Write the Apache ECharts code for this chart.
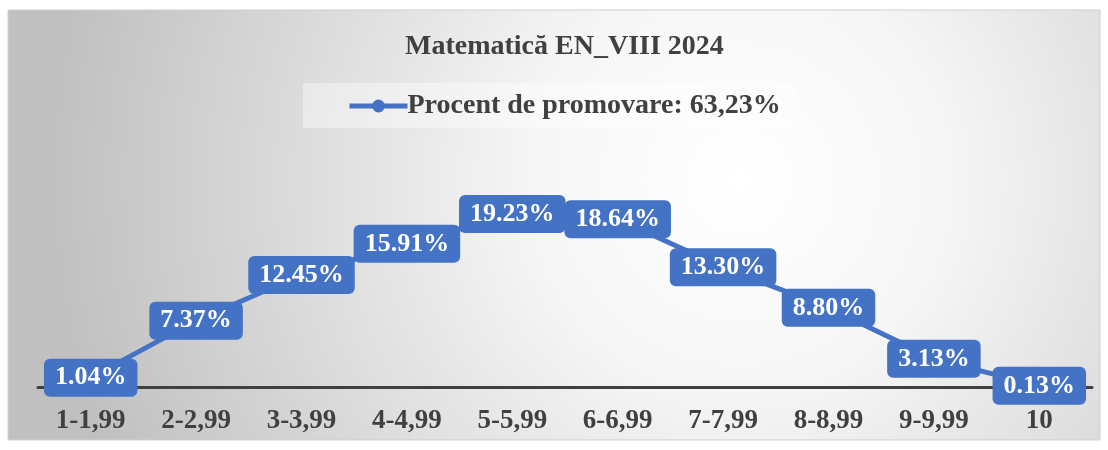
<!DOCTYPE html>
<html>
<head>
<meta charset="utf-8">
<script src="https://cdn.jsdelivr.net/npm/echarts@6/dist/echarts.min.js"></script>
<style>
  html, body { margin: 0; padding: 0; background: #fff; }
  #main { width: 1108px; height: 450px; }
</style>
</head>
<body>
<div id="main"></div>
<script>
var categories = ['1-1,99', '2-2,99', '3-3,99', '4-4,99', '5-5,99', '6-6,99', '7-7,99', '8-8,99', '9-9,99', '10'];
var percentages = [1.04, 7.37, 12.45, 15.91, 19.23, 18.64, 13.30, 8.80, 3.13, 0.13];
var seriesName = 'Procent de promovare: 63,23%';

var serif = '"Liberation Serif", "DejaVu Serif", serif';
var myChart = echarts.init(document.getElementById('main'));
myChart.setOption({
    animation: false,
    graphic: [{
        type: 'rect',
        z: -10,
        shape: { x: 8, y: 10, width: 1092, height: 430 },
        style: {
            fill: new echarts.graphic.RadialGradient(0.67, 0.4, 1.6, [
                { offset: 0, color: '#ffffff' },
                { offset: 0.3, color: '#f6f6f6' },
                { offset: 1, color: '#c0c0c0' }
            ]),
            stroke: '#cfcfcf',
            lineWidth: 1
        }
    }],
    title: {
        text: 'Matematică EN_VIII 2024',
        left: 400,
        top: 28,
        textStyle: { fontFamily: serif, fontSize: 28, fontWeight: 'bold', color: '#404040' }
    },
    legend: {
        top: 83,
        left: 303,
        padding: [9, 15, 8, 44],
        backgroundColor: 'rgba(255,255,255,0.4)',
        itemWidth: 58,
        itemHeight: 16,
        itemGap: 0,
        lineStyle: { width: 5 },
        textStyle: { fontFamily: serif, fontSize: 28, fontWeight: 'bold', color: '#404040', padding: [0, 0, 0, -5] },
        data: [seriesName]
    },
    grid: { left: 38, right: 16, top: 162, bottom: 63 },
    xAxis: {
        type: 'category',
        data: categories,
        axisLine: { lineStyle: { color: '#404040', width: 3 } },
        axisTick: { show: false },
        axisLabel: { fontFamily: serif, fontSize: 27, fontWeight: 'bold', color: '#404040', margin: 21 }
    },
    yAxis: {
        type: 'value',
        min: 0,
        max: 25,
        show: false,
        splitLine: { show: false }
    },
    series: [{
        name: seriesName,
        type: 'line',
        data: percentages,
        symbol: 'circle',
        symbolSize: 13,
        itemStyle: { color: '#4472C4' },
        lineStyle: { color: '#4472C4', width: 5 },
        label: {
            show: true,
            position: 'inside',
            formatter: function (p) { return p.value.toFixed(2) + '%'; },
            backgroundColor: '#4472C4',
            borderRadius: 6,
            padding: [7, 11, 5, 11],
            color: '#ffffff',
            fontFamily: serif,
            fontSize: 26,
            fontWeight: 'bold'
        }
    }]
});
</script>
</body>
</html>
